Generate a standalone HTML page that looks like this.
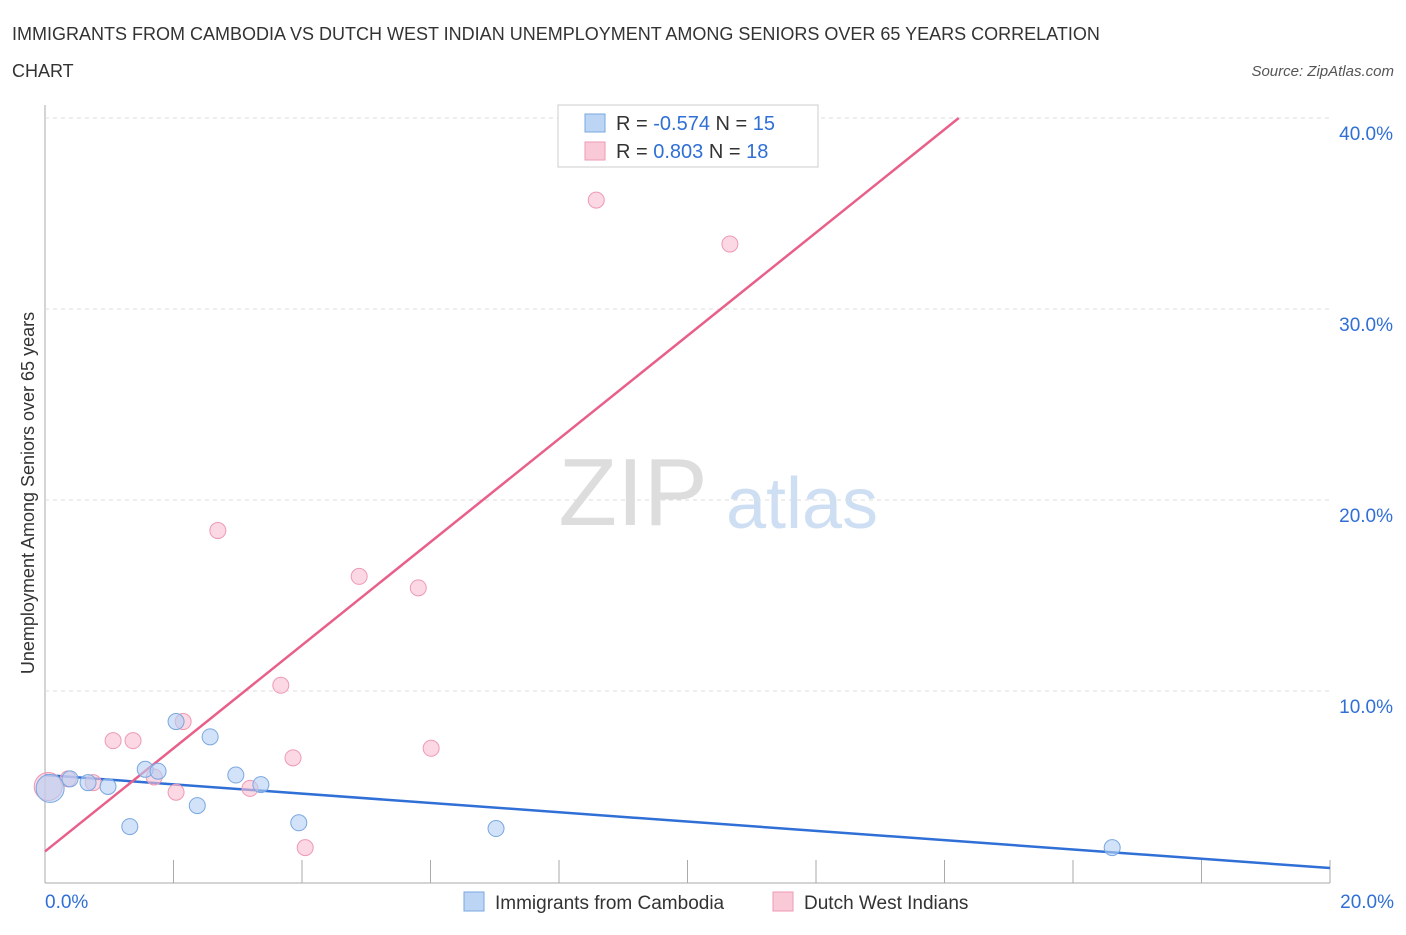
<!DOCTYPE html>
<html><head><meta charset="utf-8"><style>
body{margin:0;background:#fff;font-family:"Liberation Sans",sans-serif;}
svg text{font-family:"Liberation Sans",sans-serif;}
</style></head><body>
<svg id="chart" width="1406" height="930">
<text x="12" y="40" font-size="18" fill="#333">IMMIGRANTS FROM CAMBODIA VS DUTCH WEST INDIAN UNEMPLOYMENT AMONG SENIORS OVER 65 YEARS CORRELATION</text>
<text x="12" y="77" font-size="18" fill="#333">CHART</text>
<text x="1394" y="76" font-size="15" fill="#555" font-style="italic" text-anchor="end">Source: ZipAtlas.com</text>
<text x="633" y="525" font-size="96" fill="#ddd" font-family="Liberation Serif" text-anchor="middle">ZIP</text>
<text x="802" y="528" font-size="72" fill="#cfdff3" text-anchor="middle">atlas</text>
<text transform="translate(34,493) rotate(-90)" font-size="18" fill="#333" text-anchor="middle">Unemployment Among Seniors over 65 years</text>
<g id="grid"></g><g id="lines"></g><g id="pts"></g>
<g>
<rect x="558" y="105" width="260" height="62" fill="#fff" stroke="#ccc"/>
<rect x="585" y="114" width="20" height="18" fill="#bcd5f5" stroke="#7aa7e0"/>
<text x="616" y="130" font-size="20" fill="#333">R = <tspan fill="#2f6fd6">-0.574</tspan>   N = <tspan fill="#2f6fd6">15</tspan></text>
<rect x="585" y="142" width="20" height="18" fill="#f9c9d7" stroke="#ee9ab4"/>
<text x="616" y="158" font-size="20" fill="#333">R =  <tspan fill="#2f6fd6">0.803</tspan>   N = <tspan fill="#2f6fd6">18</tspan></text>
</g>
<g>
<rect x="464" y="892" width="20" height="19" fill="#bcd5f5" stroke="#7aa7e0"/>
<text x="495" y="909" font-size="19" fill="#333">Immigrants from Cambodia</text>
<rect x="773" y="892" width="20" height="19" fill="#f9c9d7" stroke="#ee9ab4"/>
<text x="804" y="909" font-size="19" fill="#333">Dutch West Indians</text>
</g>
</svg>
<script>
const yTicks=[10,20,30,40];
const yTickLabels=["10.0%","20.0%","30.0%","40.0%"];
const xTicks=[0,2,4,6,8,10,12,14,16,18,20];
const xTickLabels=["0.0%","20.0%"];
const blueX=[0.08,0.39,0.67,0.98,1.32,1.56,1.76,2.04,2.37,2.57,2.97,3.36,3.95,7.02,16.61];
const blueY=[4.9,5.4,5.2,5.0,2.9,5.9,5.8,8.4,4.0,7.6,5.6,5.1,3.1,2.8,1.8];
const pinkX=[0.05,0.36,0.75,1.06,1.37,1.70,2.04,2.15,2.69,3.19,3.67,3.86,4.05,4.89,5.81,6.01,8.58,10.66];
const pinkY=[5.0,5.4,5.2,7.4,7.4,5.5,4.7,8.4,18.4,4.9,10.3,6.5,1.8,16.0,15.4,7.0,35.7,33.4];
const blueFit=[5.6,0.73];
const pinkFit=[1.6,2.70];
const X=v=>45+v*64.25, Y=v=>882-v*19.1;
const NS="http://www.w3.org/2000/svg";
function mk(p,t,a){const e=document.createElementNS(NS,t);for(const k in a)e.setAttribute(k,a[k]);p.appendChild(e);return e;}
const g=document.getElementById('grid');
const ax=mk(g,'line',{x1:45,y1:105,x2:45,y2:883,stroke:'#aaa'});

const bx=mk(g,'line',{x1:45,y1:883,x2:1330,y2:883,stroke:'#aaa'});

yTicks.forEach((t,i)=>{
 const l=mk(g,'line',{x1:45,y1:Y(t),x2:1330,y2:Y(t),stroke:'#ddd','stroke-dasharray':'4,4'});
 
 const tx=mk(g,'text',{x:1393,y:Y(t)+22,'font-size':19,fill:'#2f6fd6','text-anchor':'end'});tx.textContent=yTickLabels[i];
 
});
mk(g,'line',{x1:45,y1:Y(40),x2:1330,y2:Y(40),stroke:'#ddd','stroke-dasharray':'4,4'});
xTicks.forEach(t=>{const l=mk(g,'line',{x1:X(t),y1:860,x2:X(t),y2:883,stroke:'#aaa'});
 });
[[0,'start',45],[20,'end',1394]].forEach((d,i)=>{const tx=mk(g,'text',{x:d[2],y:908,'font-size':19,fill:'#2f6fd6','text-anchor':d[1]});tx.textContent=xTickLabels[i];
 });
const L=document.getElementById('lines');
const bl=mk(L,'line',{x1:X(0),y1:Y(blueFit[0]),x2:X(20),y2:Y(blueFit[0]-blueFit[1]*20/20*1),stroke:'#2f6fd6','stroke-width':2.5});
bl.setAttribute('y2',Y(blueFit[0]+(blueFit[1]-blueFit[0])));

const xe=(40-pinkFit[0])/pinkFit[1];
const pl=mk(L,'line',{x1:X(0),y1:Y(pinkFit[0]),x2:X(xe),y2:Y(40),stroke:'#e8608a','stroke-width':2.5});

const P=document.getElementById('pts');
pinkX.forEach((x,i)=>{const c=mk(P,'circle',{cx:X(x),cy:Y(pinkY[i]),r:i==0?14:8,fill:'rgba(249,190,208,0.6)',stroke:'#ee9ab4'});
 });
blueX.forEach((x,i)=>{const c=mk(P,'circle',{cx:X(x),cy:Y(blueY[i]),r:i==0?14:8,fill:'rgba(180,208,245,0.6)',stroke:'#7aa7e0'});
 });
</script>
</body></html>
